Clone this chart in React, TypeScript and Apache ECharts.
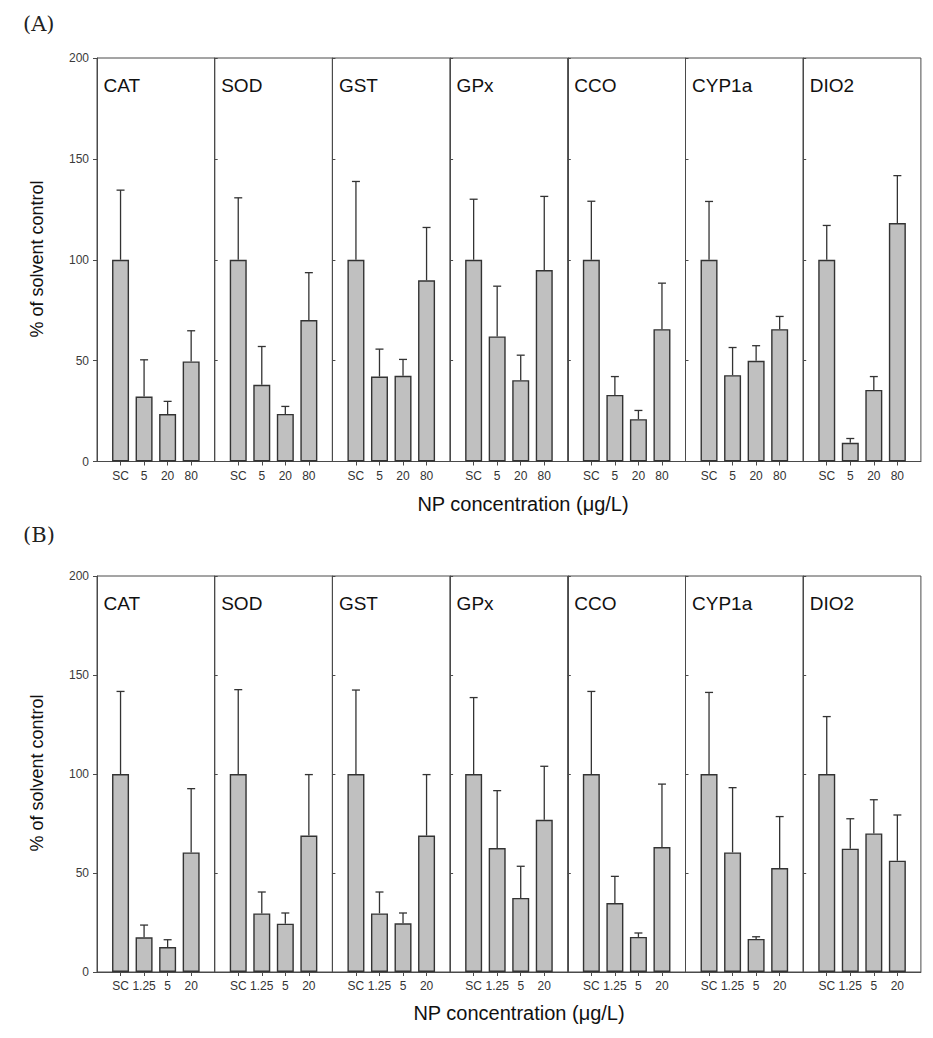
import React, { useEffect, useRef } from "react";
import * as echarts from "echarts";

const enzymes = ["CAT", "SOD", "GST", "GPx", "CCO", "CYP1a", "DIO2"];
const concA = ["SC", "5", "20", "80"];
const concB = ["SC", "1.25", "5", "20"];
const yTicks = [0, 50, 100, 150, 200];

// Panel (A): means (% of solvent control)
const meanA_CAT = [100, 32.2, 23.5, 49.6];
const meanA_SOD = [100, 38, 23.6, 70.1];
const meanA_GST = [100, 42.1, 42.5, 89.8];
const meanA_GPx = [100, 62, 40.3, 94.9];
const meanA_CCO = [100, 33, 21, 65.6];
const meanA_CYP1a = [100, 42.8, 49.9, 65.6];
const meanA_DIO2 = [100, 9.3, 35.5, 118.2];
// Panel (A): error (upper SD)
const errA_CAT = [34.5, 18.2, 6.3, 15.2];
const errA_SOD = [30.7, 19, 3.7, 23.5];
const errA_GST = [38.8, 13.6, 8.1, 26.2];
const errA_GPx = [30, 24.9, 12.4, 36.5];
const errA_CCO = [29, 9.1, 4.3, 22.8];
const errA_CYP1a = [28.9, 13.7, 7.5, 6.3];
const errA_DIO2 = [17, 2.1, 6.6, 23.5];

// Panel (B): means
const meanB_CAT = [100, 17.5, 12.6, 60.4];
const meanB_SOD = [100, 29.6, 24.4, 68.9];
const meanB_GST = [100, 29.6, 24.6, 68.9];
const meanB_GPx = [100, 62.6, 37.4, 76.9];
const meanB_CCO = [100, 34.8, 17.7, 63.1];
const meanB_CYP1a = [100, 60.4, 16.7, 52.5];
const meanB_DIO2 = [100, 62.3, 70, 56.2];
// Panel (B): errors
const errB_CAT = [41.7, 6.2, 3.7, 32.2];
const errB_SOD = [42.6, 10.8, 5.4, 30.8];
const errB_GST = [42.4, 10.8, 5.2, 30.8];
const errB_GPx = [38.6, 29, 16, 27];
const errB_CCO = [41.7, 13.5, 2, 31.8];
const errB_CYP1a = [41.2, 32.7, 1.1, 26];
const errB_DIO2 = [29, 15.1, 17, 23.1];

const meansA = [meanA_CAT, meanA_SOD, meanA_GST, meanA_GPx, meanA_CCO, meanA_CYP1a, meanA_DIO2];
const errsA = [errA_CAT, errA_SOD, errA_GST, errA_GPx, errA_CCO, errA_CYP1a, errA_DIO2];
const meansB = [meanB_CAT, meanB_SOD, meanB_GST, meanB_GPx, meanB_CCO, meanB_CYP1a, meanB_DIO2];
const errsB = [errB_CAT, errB_SOD, errB_GST, errB_GPx, errB_CCO, errB_CYP1a, errB_DIO2];

const yTitle = "% of solvent control";
const xTitle = "NP concentration (\u03bcg/L)";

export default function App() {
  const ref = useRef<HTMLDivElement>(null);

  useEffect(() => {
    if (!ref.current) return;
    const chart = echarts.init(ref.current, undefined, { renderer: "svg" });

    const font = "Liberation Sans, Arial, Helvetica, sans-serif";
    const axisColor = "#4a4a4a";
    const panelLeft = 97;
    const panelW = 117.7;
    const blocks = [
      { top: 58, bottom: 461.5, cats: concA, means: meansA, errs: errsA, tag: "(A)", tagY: 24, xTitleY: 504, xTitleX: 523, yTitleY: 259 },
      { top: 576, bottom: 972, cats: concB, means: meansB, errs: errsB, tag: "(B)", tagY: 535, xTitleY: 1013, xTitleX: 519, yTitleY: 773 },
    ];

    const grid: any[] = [];
    const xAxis: any[] = [];
    const yAxis: any[] = [];
    const series: any[] = [];
    const graphic: any[] = [];

    blocks.forEach((b, bi) => {
      enzymes.forEach((name, i) => {
        const gi = bi * 7 + i;
        const left = panelLeft + i * panelW;
        grid.push({
          left,
          top: b.top,
          width: panelW,
          height: b.bottom - b.top,
          show: true,
          borderColor: axisColor,
          borderWidth: 1,
          backgroundColor: "transparent",
          containLabel: false,
        });
        xAxis.push({
          type: "category",
          gridIndex: gi,
          data: ["", ...b.cats, ""],
          boundaryGap: false,
          axisLine: { show: true, lineStyle: { color: axisColor, width: 1 } },
          axisTick: {
            show: true,
            length: 4,
            interval: (idx: number) => idx > 0 && idx < b.cats.length + 1,
            lineStyle: { color: axisColor },
          },
          axisLabel: { interval: 0, fontSize: 12, color: "#333", margin: 8, fontFamily: font },
          splitLine: { show: false },
        });
        yAxis.push({
          type: "value",
          gridIndex: gi,
          min: yTicks[0],
          max: yTicks[yTicks.length - 1],
          interval: 50,
          axisLine: { show: true, lineStyle: { color: axisColor, width: 1 } },
          axisTick: { show: true, inside: i > 0, length: i > 0 ? 3 : 4, lineStyle: { color: axisColor } },
          axisLabel: { show: i === 0, fontSize: 12, color: "#3a3a3a", margin: 8, fontFamily: font },
          splitLine: { show: false },
        });
        const m = b.means[i];
        const e = b.errs[i];
        series.push({
          type: "bar",
          xAxisIndex: gi,
          yAxisIndex: gi,
          barWidth: 17,
          data: m.map((v, k) => [k + 1, v]),
          itemStyle: { color: "#c0c0c0", borderColor: "#333", borderWidth: 1.4 },
          silent: true,
        });
        series.push({
          type: "custom",
          xAxisIndex: gi,
          yAxisIndex: gi,
          data: m.map((v, k) => [k + 1, v, v + e[k]]),
          encode: { x: 0, y: [1, 2] },
          z: 5,
          silent: true,
          renderItem: (params: any, api: any) => {
            const base = api.coord([api.value(0), api.value(1)]);
            const top = api.coord([api.value(0), api.value(2)]);
            const st = { stroke: "#333", lineWidth: 1.3, fill: "none" };
            return {
              type: "group",
              children: [
                { type: "line", shape: { x1: base[0], y1: base[1], x2: base[0], y2: top[1] }, style: st },
                { type: "line", shape: { x1: base[0] - 4, y1: top[1], x2: base[0] + 4, y2: top[1] }, style: st },
              ],
            };
          },
        });
        graphic.push({
          type: "text",
          x: left + 6.5,
          y: b.top + 27,
          style: { text: name, font: `19px ${font}`, fill: "#111", textAlign: "left", textVerticalAlign: "middle" },
        });
      });
      graphic.push({
        type: "text",
        x: 23,
        y: b.tagY,
        style: { text: b.tag, font: `21px "DejaVu Serif", serif`, fill: "#222", textAlign: "left", textVerticalAlign: "middle" },
      });
      graphic.push({
        type: "text",
        x: b.xTitleX,
        y: b.xTitleY,
        style: { text: xTitle, font: `20px ${font}`, fill: "#111", textAlign: "center", textVerticalAlign: "middle" },
      });
      graphic.push({
        type: "text",
        x: 37,
        y: b.yTitleY,
        rotation: Math.PI / 2,
        style: { text: yTitle, font: `18px ${font}`, fill: "#111", textAlign: "center", textVerticalAlign: "middle" },
      });
    });

    chart.setOption({
      animation: false,
      backgroundColor: "#ffffff",
      grid,
      xAxis,
      yAxis,
      series,
      graphic,
    });

    return () => chart.dispose();
  }, []);

  return (
    <div
      ref={ref}
      style={{ position: "absolute", left: 0, top: 0, width: 933, height: 1038 }}
    />
  );
}
